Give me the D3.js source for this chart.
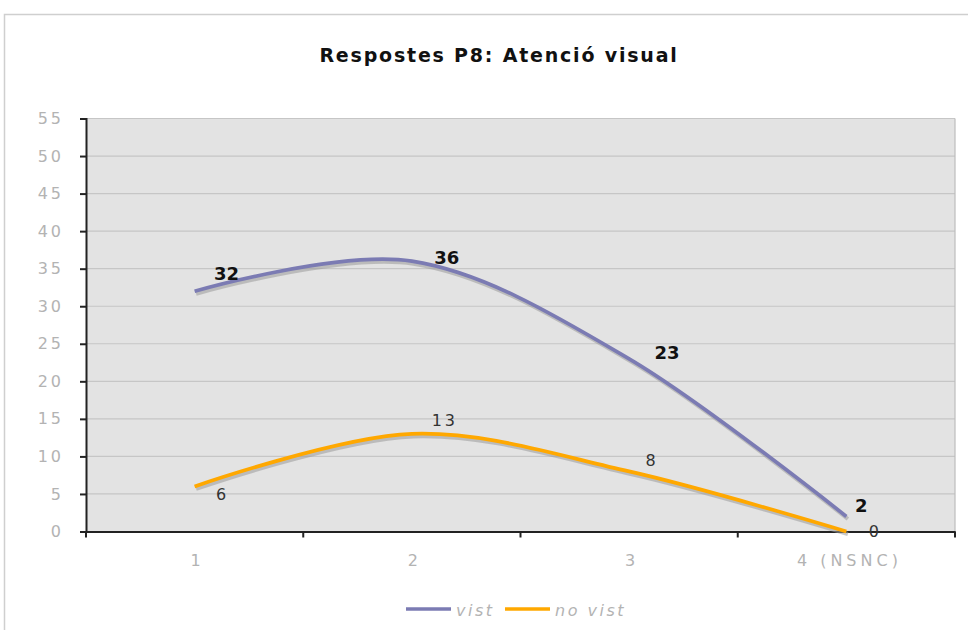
<!DOCTYPE html>
<html>
<head>
<meta charset="utf-8">
<script src="https://cdn.jsdelivr.net/npm/d3@7"></script>
<style>
  html, body { margin: 0; padding: 0; background: #fff; }
  svg { display: block; font-family: "DejaVu Sans", Verdana, sans-serif; }
</style>
</head>
<body>
<svg id="chart" width="968" height="630"></svg>
<script>
// data
const categories = ['1', '2', '3', '4 (NSNC)'];
const vistValues = [32, 36, 23, 2];
const noVistValues = [6, 13, 8, 0];
const yTicks = [0, 5, 10, 15, 20, 25, 30, 35, 40, 45, 50, 55];

const series = [
  { name: 'vist', values: vistValues, color: '#7b7bb3', bold: true,
    labelOff: [[32, -18], [35, -4], [38, -6], [15, -11]] },
  { name: 'no vist', values: noVistValues, color: '#ffa800', bold: false,
    labelOff: [[28, 8], [33, -13], [23, -11], [29, 0]] }
];

const svg = d3.select('#chart');
const plot = { left: 86, right: 955, top: 118.5, bottom: 531.5 };

// outer frame
svg.append('path')
  .attr('d', 'M4.5,640 V14.5 H970')
  .attr('fill', 'none')
  .attr('stroke', '#cfcfcf')
  .attr('stroke-width', 1.5);

// title
svg.append('text')
  .attr('x', 499).attr('y', 62)
  .attr('text-anchor', 'middle')
  .attr('font-size', 19).attr('font-weight', 'bold')
  .attr('letter-spacing', 1.8)
  .attr('fill', '#111')
  .text('Respostes P8: Atenció visual');

const x = d3.scaleBand().domain(categories).range([plot.left, plot.right]);
const y = d3.scaleLinear().domain([0, 55]).range([plot.bottom, plot.top]);

// plot background
svg.append('rect')
  .attr('x', plot.left).attr('y', plot.top)
  .attr('width', plot.right - plot.left).attr('height', plot.bottom - plot.top)
  .attr('fill', '#e3e3e3');

// gridlines
svg.append('g').selectAll('line')
  .data(yTicks.filter(d => d > 0))
  .join('line')
  .attr('x1', plot.left).attr('x2', plot.right)
  .attr('y1', d => y(d)).attr('y2', d => y(d))
  .attr('stroke', '#c6c6c6').attr('stroke-width', 1.2);

svg.append('line')
  .attr('x1', plot.right).attr('x2', plot.right)
  .attr('y1', plot.top).attr('y2', plot.bottom)
  .attr('stroke', '#bdbdbd').attr('stroke-width', 1.2);

// y axis
const yAxis = svg.append('g')
  .attr('transform', `translate(${plot.left},0)`)
  .call(d3.axisLeft(y).tickValues(yTicks).tickSize(6).tickPadding(16));
yAxis.select('.domain').attr('stroke', '#222').attr('stroke-width', 2);
yAxis.selectAll('.tick line').attr('stroke', '#222').attr('stroke-width', 2);
yAxis.selectAll('.tick text')
  .attr('font-family', '"DejaVu Sans", Verdana, sans-serif')
  .attr('font-size', 16).attr('fill', '#b3b3b3')
  .attr('letter-spacing', 3);

// x axis
const xAxis = svg.append('g')
  .attr('transform', `translate(0,${plot.bottom})`)
  .call(d3.axisBottom(x).tickSize(0).tickPadding(23));
xAxis.select('.domain').attr('stroke', '#222').attr('stroke-width', 2);
xAxis.selectAll('.tick text')
  .attr('font-family', '"DejaVu Sans", Verdana, sans-serif')
  .attr('font-size', 16).attr('fill', '#b3b3b3')
  .attr('letter-spacing', 4)
  .attr('dx', 3);
xAxis.selectAll('.cat-tick')
  .data(d3.range(categories.length + 1))
  .join('line')
  .attr('class', 'cat-tick')
  .attr('x1', i => plot.left + i * x.step()).attr('x2', i => plot.left + i * x.step())
  .attr('y1', 0).attr('y2', 6)
  .attr('stroke', '#222').attr('stroke-width', 2);

const cx = c => x(c) + x.bandwidth() / 2;
const line = d3.line()
  .x((d, i) => cx(categories[i]))
  .y(d => y(d))
  .curve(d3.curveCardinal.tension(0));

// shadows then lines
series.forEach(s => {
  svg.append('path')
    .datum(s.values)
    .attr('transform', 'translate(1.5,2.5)')
    .attr('d', line)
    .attr('fill', 'none')
    .attr('stroke', '#9a9a9a').attr('stroke-opacity', 0.55)
    .attr('stroke-width', 4);
});
series.forEach(s => {
  svg.append('path')
    .datum(s.values)
    .attr('d', line)
    .attr('fill', 'none')
    .attr('stroke', s.color)
    .attr('stroke-width', 3.7);
});

// data labels
series.forEach(s => {
  svg.append('g').selectAll('text')
    .data(s.values)
    .join('text')
    .attr('x', (d, i) => cx(categories[i]) + s.labelOff[i][0])
    .attr('y', (d, i) => y(d) + s.labelOff[i][1])
    .attr('text-anchor', 'middle')
    .attr('dominant-baseline', 'central')
    .attr('font-size', s.bold ? 18 : 16)
    .attr('font-weight', s.bold ? 'bold' : 'normal')
    .attr('letter-spacing', s.bold ? 0 : 3)
    .attr('fill', s.bold ? '#111' : '#333')
    .text(d => d);
});

// legend
const legend = svg.append('g').attr('transform', 'translate(406,610)');
const legendItems = [
  { s: series[0], x: 0, tx: 50 },
  { s: series[1], x: 99, tx: 149 }
];
legendItems.forEach(it => {
  legend.append('line')
    .attr('x1', it.x).attr('x2', it.x + 45)
    .attr('y1', -1).attr('y2', -1)
    .attr('stroke', it.s.color).attr('stroke-width', 3.7);
  legend.append('text')
    .attr('x', it.tx).attr('y', 0)
    .attr('dominant-baseline', 'central')
    .attr('font-size', 16).attr('font-style', 'italic')
    .attr('letter-spacing', 2.5)
    .attr('fill', '#b3b3b3')
    .text(it.s.name);
});
</script>
</body>
</html>
